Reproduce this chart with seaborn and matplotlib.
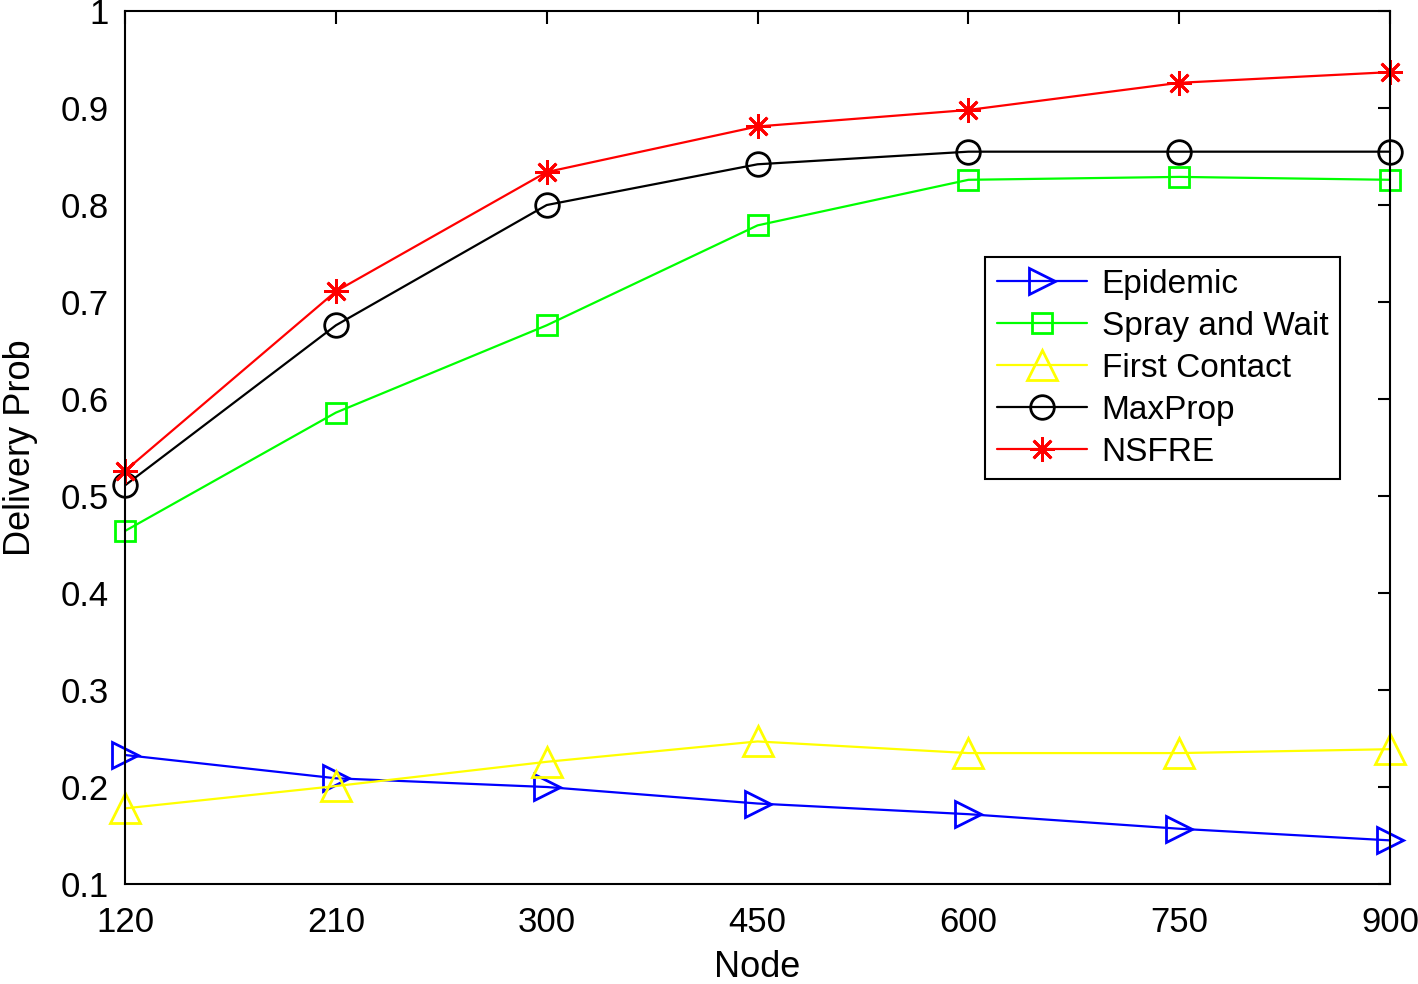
import numpy as np
import pandas as pd
import matplotlib
matplotlib.use("Agg")
import matplotlib.pyplot as plt
import seaborn as sns

# Data
nodes = ["120", "210", "300", "450", "600", "750", "900"]
epidemic = [0.233, 0.209, 0.200, 0.183, 0.172, 0.157, 0.145]
spray_wait = [0.464, 0.586, 0.676, 0.779, 0.826, 0.829, 0.826]
first_contact = [0.178, 0.201, 0.226, 0.247, 0.235, 0.235, 0.239]
maxprop = [0.511, 0.676, 0.800, 0.842, 0.855, 0.855, 0.855]
nsfre = [0.526, 0.711, 0.834, 0.881, 0.898, 0.926, 0.937]
y_ticks = [0.1, 0.2, 0.3, 0.4, 0.5, 0.6, 0.7, 0.8, 0.9, 1.0]
y_tick_labels = ["0.1", "0.2", "0.3", "0.4", "0.5", "0.6", "0.7", "0.8", "0.9", "1"]

# name, values, colour, marker, marker size
series = [
    ("Epidemic", epidemic, "#0000ff", ">", 19),
    ("Spray and Wait", spray_wait, "#00ff00", "s", 15),
    ("First Contact", first_contact, "#ffff00", "^", 21),
    ("MaxProp", maxprop, "#000000", "o", 17),
    ("NSFRE", nsfre, "#ff0000", (8, 2, 0), 18),
]

sns.set_style("white")
plt.rcParams["font.family"] = ["Liberation Sans", "DejaVu Sans"]
plt.rcParams["text.color"] = "black"
plt.rcParams["axes.labelcolor"] = "black"
plt.rcParams["xtick.color"] = "black"
plt.rcParams["ytick.color"] = "black"

fig = plt.figure(figsize=(14.18, 9.84), dpi=100)
ax = fig.add_axes([0.0882, 0.1016, 0.8921, 0.8872])

x = np.arange(len(nodes))
for name, vals, color, marker, ms in series:
    df = pd.DataFrame({"x": x, "y": vals})
    sns.lineplot(data=df, x="x", y="y", ax=ax, color=color, marker=marker,
                 markersize=ms, mfc="none", mec=color, mew=2, linewidth=1.6,
                 label=name, clip_on=False)

ax.set_xlim(0, len(nodes) - 1)
ax.set_ylim(0.1, 1.0)
ax.set_xticks(x)
ax.set_xticklabels(nodes)
ax.set_yticks(y_ticks)
ax.set_yticklabels(y_tick_labels)
ax.tick_params(direction="in", length=9, width=1.5, labelsize=25,
               top=True, right=True)
ax.tick_params(axis="x", pad=16)
ax.tick_params(axis="y", pad=12)
for sp in ax.spines.values():
    sp.set_color("black")
    sp.set_linewidth(1.5)

ax.set_xlabel("Node", fontsize=26, labelpad=8)
ax.set_ylabel("Delivery Prob", fontsize=26, labelpad=16)

leg = ax.legend(loc="upper left", bbox_to_anchor=(0.6798, 0.7182), fontsize=24,
                frameon=True, fancybox=False, framealpha=1, edgecolor="black",
                handlelength=2.7, borderpad=0.35, labelspacing=0.33,
                handletextpad=0.45, borderaxespad=0)
leg.get_frame().set_linewidth(1.5)

fig.savefig("out.png", dpi=100)
